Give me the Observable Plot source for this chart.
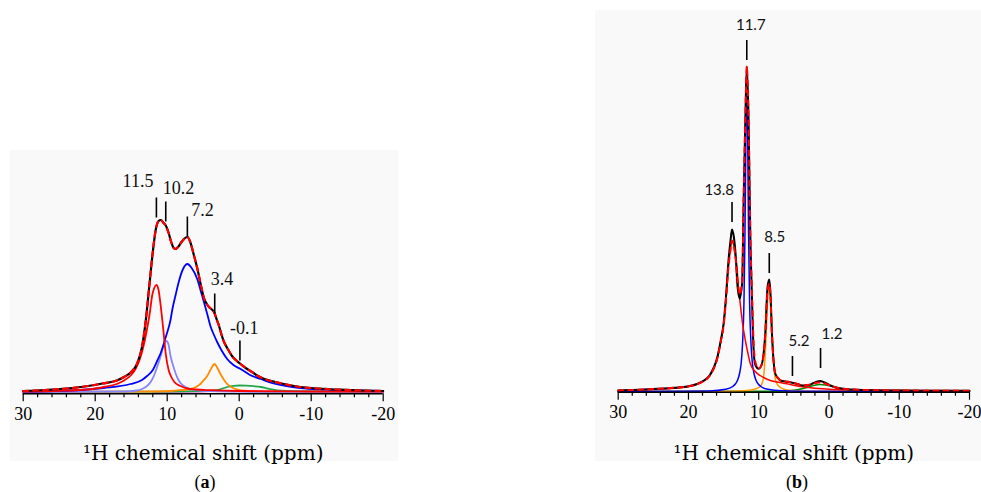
<!DOCTYPE html>
<html>
<head>
<meta charset="utf-8">
<script src="https://cdn.jsdelivr.net/npm/d3@7"></script>
<script src="https://cdn.jsdelivr.net/npm/@observablehq/plot@0.6"></script>
<style>
  html, body { margin: 0; padding: 0; background: #ffffff; }
  #root { position: relative; width: 981px; height: 492px; overflow: hidden; background: #ffffff; }
  .panel { position: absolute; }
  .cap { position: absolute; width: 40px; text-align: center; font-family: "Liberation Serif", serif; font-size: 18px; line-height: 20px; color: #000; }
</style>
</head>
<body>
<div id="root">
  <div id="pa" class="panel" style="left:10px; top:150px;"></div>
  <div id="pb" class="panel" style="left:595px; top:10px;"></div>
  <div class="cap" style="left:185px; top:472px;">(<b>a</b>)</div>
  <div class="cap" style="left:777px; top:472px;">(<b>b</b>)</div>
</div>
<script>
// ---------- shared axis data ----------
const xTicksMajor = [30, 20, 10, 0, -10, -20];
const xTicksMinor = [28, 26, 24, 22, 18, 16, 14, 12, 8, 6, 4, 2, -2, -4, -6, -8, -12, -14, -16, -18];
const axisTitle = "\u00B9H chemical shift (ppm)";

// ---------- panel (a): [ppm, intensity] ----------
const totalA = [[30,1],[27,2],[24,3.5],[21,6],[19,8.5],[17,11.5],[16,15],[15,20],[14.2,28],[13.5,45],[13.0,70],[12.5,105],[12.0,140],[11.6,162],[11.2,171],[10.9,172],[10.5,169],[10.2,166.5],[9.8,159],[9.4,149],[9.1,144],[8.85,143],[8.5,145],[8.0,150],[7.6,153.5],[7.2,155],[6.8,150],[6.3,137],[5.8,123],[5.3,106],[4.9,94],[4.5,88],[4.2,85],[3.8,82.5],[3.5,80],[3.1,72],[2.8,66],[2.4,56],[2.1,50],[1.5,42],[1.0,36],[0.4,31.5],[-0.2,28],[-1,23.5],[-2,19],[-2.5,16.5],[-3.5,13],[-5,10],[-6.2,8],[-8.5,5],[-11,3.5],[-14,2.3],[-17,1.5],[-20,1]];
const fitA = totalA;
const redA = [[30,0.5],[25,1.2],[21,2.5],[18.8,5],[17,8],[16,11.5],[15,17],[14.4,23],[13.9,31],[13.5,40],[13.1,52],[12.8,63],[12.4,80],[12.1,96],[11.8,104],[11.5,107],[11.2,102],[10.9,86],[10.55,63],[10.2,38],[9.8,22],[9.5,16],[9,10],[8.15,6],[7.2,3.5],[6,2.5],[4,1.8],[0,1],[-10,0.5],[-20,0.3]];
const lilacA = [[30,0],[16,0.5],[14.2,1.5],[13.5,3],[12.8,6],[12.3,10],[11.86,16],[11.4,25],[10.9,36],[10.5,46],[10.1,51],[9.8,47],[9.54,36],[9.2,27],[8.85,19],[8.5,13],[8.15,9],[7.5,5],[6.8,3],[5.5,1.5],[4,0.8],[0,0.3],[-20,0]];
const blueA = [[30,0.5],[25.7,1],[22,2],[18.8,4],[15.1,8],[13.5,12],[12.8,16],[12,22],[11.4,31],[10.9,39],[10.2,55],[9.54,72],[9.3,82],[8.8,98],[8.4,110],[7.8,123],[7.2,128],[6.6,124],[5.83,113],[5.3,100],[4.9,90],[4.4,77],[4.0,66],[3.5,57],[3.06,50],[2.4,41],[1.67,33],[0.8,27],[-0.2,23],[-1.5,17],[-3,13],[-4.5,9],[-6.2,6.5],[-8.5,4],[-12,2.5],[-16,1.5],[-20,1]];
const orangeA = [[30,0],[12,0.5],[9.5,1],[8,2],[6.8,3],[6,5],[5.4,8],[4.9,12],[4.45,16],[4,22],[3.7,26],[3.43,28],[3.1,25],[2.6,18],[2.1,12],[1.67,8],[1.0,4.5],[0.28,2.5],[-1,1],[-2.5,0.5],[-6,0.2],[-20,0]];
const greenA = [[30,0],[10,0.3],[6,0.8],[3.5,1.5],[2.5,3],[1.67,5],[0.8,6.2],[0,6.5],[-1,6.3],[-2,5.8],[-3,5],[-4,3.3],[-5.3,1.5],[-8,0.8],[-20,0.3]];
const violetA = [[12,0],[6,0.3],[4,0.8],[2,1.2],[0,0.8],[-3,0.3],[-6,0]];
const peakLabelsA = ["11.5", "10.2", "7.2", "3.4", "-0.1"];
const peakPpmA = [11.5, 10.2, 7.2, 3.4, -0.1];
const peakBaseA = [174, 170, 155, 78, 31];

// ---------- panel (b): [ppm, intensity] ----------
const totalB = [[30,1],[27,1.8],[24.4,2.7],[22,3.8],[20.2,5],[18.8,7.5],[17.8,11],[17,16],[16.4,24],[15.9,34],[15.4,51],[15,68],[14.7,91],[14.3,131],[14.0,152],[13.8,162],[13.55,155],[13.3,138],[13.0,104],[12.7,93],[12.5,100],[12.35,110],[12.15,191],[11.9,274],[11.7,325],[11.45,274],[11.2,158],[10.95,91],[10.75,45],[10.5,27],[10.0,22.7],[9.55,27.7],[9.3,38],[9.07,58],[8.75,104],[8.5,112],[8.35,101],[8.12,58],[7.9,32],[7.65,18],[7.2,13],[6.9,11],[6.2,10],[5.5,9.3],[4.5,7.5],[3.6,6],[2.8,6.5],[2.2,8.5],[1.5,10.3],[1.2,10.5],[0.8,9.5],[0.2,7.5],[-0.2,6],[-1,4],[-2,2.8],[-4,1.8],[-6.4,1.3],[-10,1],[-15,0.8],[-20,0.7]];
const fitB = [[30,1],[27,1.8],[24.4,2.7],[22,3.8],[20.2,5],[18.8,7.3],[17.8,10.5],[17,15.5],[16.4,23],[15.9,33],[15.4,50],[15,66],[14.7,88],[14.3,125],[14.0,143],[13.8,151],[13.55,146],[13.3,134],[13.0,110],[12.7,97],[12.5,102],[12.35,112],[12.15,190],[11.9,272],[11.7,325],[11.45,272],[11.2,160],[10.95,95],[10.75,52],[10.5,30],[10.0,23],[9.55,27],[9.3,37],[9.07,57],[8.75,100],[8.5,108],[8.35,98],[8.12,57],[7.9,32],[7.65,18],[7.2,13],[6.9,11],[6.2,10],[5.5,9.3],[4.5,7.5],[3.6,6.2],[2.8,6.8],[2.2,8],[1.5,9],[1.2,9],[0.8,8.5],[0.2,7],[-0.2,6],[-1,4],[-2,2.8],[-4,1.8],[-6.4,1.3],[-10,1],[-15,0.8],[-20,0.7]];
const redB = [[30,1],[27,1.5],[24.4,2.3],[22,3.3],[20.2,4.6],[18.8,7],[17.8,10.5],[17,15.5],[16.4,23],[15.9,33],[15.4,50],[15,66],[14.7,88],[14.3,125],[14.0,143],[13.8,151],[13.55,146],[13.3,134],[13.1,124],[12.9,106],[12.63,88],[12.3,68],[11.9,51],[11.5,37],[11.2,28],[10.5,20],[9.8,16],[8.35,11],[7,9],[6,7.7],[4.5,5.5],[3.15,4.3],[1.5,3],[0,2.3],[-3,1.7],[-8,1.2],[-14,1],[-20,0.8]];
const blueB = [[30,0.1],[22,0.3],[17,0.6],[14.7,2.2],[13.7,5],[13.3,7.7],[13.0,11.4],[12.7,19],[12.5,28],[12.3,48],[12.1,90],[11.95,161],[11.85,237],[11.8,278],[11.7,322],[11.6,278],[11.55,237],[11.45,161],[11.3,90],[11.1,48],[10.9,28],[10.7,19],[10.4,11.4],[10.1,7.7],[9.7,5],[8.7,2.2],[6.7,0.8],[1.7,0.2],[-20,0.05]];
const orangeB = [[30,0],[14,0.3],[12,0.8],[11,1.5],[10.3,3],[9.8,5],[9.55,7.7],[9.3,15],[9.07,38],[8.85,72],[8.7,95],[8.5,103],[8.3,95],[8.15,72],[7.95,38],[7.7,15],[7.4,7.7],[7.0,4.5],[6.5,2.5],[6,1.5],[5,0.8],[3,0.3],[-20,0]];
const greenB = [[30,0],[8,0.2],[6,0.5],[5,1.2],[4,2.5],[3,4.3],[2.2,6],[1.3,7],[0.5,6.5],[-0.5,5],[-1.5,3],[-2.5,1.5],[-3.5,0.7],[-5,0.3],[-20,0]];
const peakLabelsB = ["11.7", "13.8", "8.5", "5.2", "1.2"];
const peakPpmB = [11.7, 13.8, 8.5, 5.2, 1.2];
const peakBaseB = [331, 169, 118, 15, 23];

// ---------- layout / styles (not data) ----------
const toRows = pairs => pairs.map(([ppm, v]) => ({ppm, v}));
const tickLen = 20;

function buildPanel(cfg) {
  const marks = [];
  for (const c of cfg.components) {
    marks.push(Plot.line(toRows(c.data), {x: "ppm", y: "v", stroke: c.color, strokeWidth: c.width, curve: "monotone-x"}));
  }
  marks.push(Plot.line(toRows(cfg.total), {x: "ppm", y: "v", stroke: "#000000", strokeWidth: cfg.totalWidth, curve: "monotone-x"}));
  marks.push(Plot.line(toRows(cfg.fit), {x: "ppm", y: "v", stroke: "#ff0000", strokeWidth: cfg.fitWidth, strokeDasharray: cfg.dash, curve: "monotone-x"}));
  // axis line
  marks.push(Plot.ruleY([cfg.yMin], {stroke: "#000000", strokeWidth: 1.6}));
  marks.push(Plot.axisX(xTicksMinor, {tickSize: 4, strokeWidth: 1.2, tickFormat: () => "", label: null}));
  marks.push(Plot.axisX(xTicksMajor, {tickSize: 8, strokeWidth: 1.2, tickPadding: 5, tickFormat: d => String(d), label: null, fontSize: 18, fontFamily: "Liberation Serif"}));
  marks.push(Plot.axisX([], {label: axisTitle, labelAnchor: "center", labelArrow: "none", labelOffset: cfg.labelOffset, tickSize: 0, fontSize: 20, fontFamily: "DejaVu Serif"}));
  // peak markers
  const rows = cfg.labels.map((t, i) => ({text: t, ppm: cfg.ppm[i], base: cfg.base[i]}));
  marks.push(Plot.ruleX(rows, {x: "ppm", y1: "base", y2: d => d.base + tickLen, stroke: "#000000", strokeWidth: 1.6}));
  rows.forEach((r, i) => {
    const L = cfg.layout[i];
    marks.push(Plot.text([r], {x: "ppm", y: d => d.base + tickLen, text: "text", textAnchor: L.anchor, dx: L.dx, dy: L.dy, lineAnchor: "bottom", fontSize: cfg.labelSize, fontFamily: cfg.labelFont, fill: "#111111"}));
  });
  return Plot.plot({
    width: cfg.width, height: cfg.height,
    marginLeft: cfg.mL, marginRight: cfg.mR, marginTop: cfg.mT, marginBottom: cfg.mB,
    style: {background: "#f9f9f9", fontFamily: "Liberation Serif", fontSize: "18px", color: "#000000", overflow: "visible"},
    x: {domain: [30, -20]},
    y: {domain: [cfg.yMin, cfg.yMax], axis: null},
    marks
  });
}

const panelA = buildPanel({
  width: 388, height: 311, mL: 12.7, mR: 15.3, mT: 11.5, mB: 67.7, yMin: -1.8, yMax: 230,
  labelOffset: 66,
  components: [
    {data: violetA, color: "#cc44cc", width: 1.6},
    {data: greenA, color: "#22a84a", width: 1.8},
    {data: orangeA, color: "#ff8c00", width: 1.8},
    {data: lilacA, color: "#8585ff", width: 1.8},
    {data: blueA, color: "#0000ff", width: 1.8},
    {data: redA, color: "#ff0000", width: 1.8}
  ],
  total: totalA, fit: fitA, totalWidth: 2.2, fitWidth: 2.2, dash: "5,5",
  labels: peakLabelsA, ppm: peakPpmA, base: peakBaseA,
  labelFont: "Liberation Serif", labelSize: 18,
  layout: [
    {anchor: "end", dx: -3, dy: -11},
    {anchor: "start", dx: -3, dy: -8},
    {anchor: "start", dx: 4, dy: -1},
    {anchor: "start", dx: -4, dy: -9},
    {anchor: "start", dx: -10, dy: -7}
  ]
});
document.getElementById("pa").appendChild(panelA);

const panelB = buildPanel({
  width: 386, height: 451, mL: 22.7, mR: 12, mT: 21, mB: 69.3, yMin: -0.7, yMax: 360,
  labelOffset: 68,
  components: [
    {data: greenB, color: "#008a00", width: 1.5},
    {data: orangeB, color: "#ff9900", width: 1.5},
    {data: blueB, color: "#0000ff", width: 1.5},
    {data: redB, color: "#ff0000", width: 1.5}
  ],
  total: totalB, fit: fitB, totalWidth: 2, fitWidth: 2, dash: "5,5",
  labels: peakLabelsB, ppm: peakPpmB, base: peakBaseB,
  labelFont: "Lato", labelSize: 15,
  layout: [
    {anchor: "middle", dx: 4, dy: -11},
    {anchor: "end", dx: 2, dy: -8},
    {anchor: "start", dx: -5, dy: -12},
    {anchor: "start", dx: -4, dy: -11},
    {anchor: "start", dx: 1, dy: -10}
  ]
});
document.getElementById("pb").appendChild(panelB);
</script>
</body>
</html>
